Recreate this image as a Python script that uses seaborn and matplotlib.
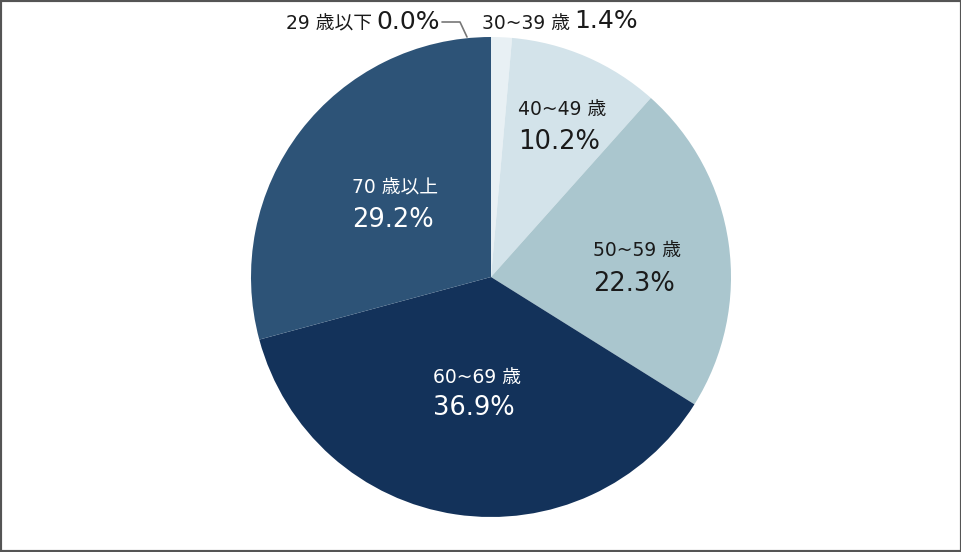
import numpy as np
import seaborn as sns
import matplotlib.pyplot as plt
from matplotlib.patches import Rectangle

# age groups and their share (%)
groups = ['29 歳以下', '30~39 歳', '40~49 歳', '50~59 歳', '60~69 歳', '70 歳以上']
shares = [0.0, 1.4, 10.2, 22.3, 36.9, 29.2]
colors = ['#ffffff', '#e8f0f4', '#d3e3ea', '#aac6ce', '#13325a', '#2d5377']

sns.set_theme(style='white')
plt.rcParams['font.family'] = ['DejaVu Sans', 'Noto Sans CJK JP']

W, H = 962, 552
CX, CY, R = 491, 277, 240   # pie centre / radius in pixels


def px(x, y):
    # pixel position -> pie data coords
    return (x - CX) / R, (CY - y) / R


fig = plt.figure(figsize=(W / 100, H / 100), dpi=100)
ax = fig.add_axes([(CX - R) / W, (H - CY - R) / H, 2 * R / W, 2 * R / H])

wedges, _ = ax.pie(shares, colors=sns.color_palette(colors), startangle=90,
                   counterclock=False, radius=1.0,
                   wedgeprops=dict(linewidth=0))
wedges[0].set_edgecolor('white')
wedges[0].set_linewidth(1.5)
ax.set_xlim(-1.0, 1.0)
ax.set_ylim(-1.0, 1.0)
ax.set_aspect('equal')
ax.axis('off')

# labels inside the larger slices: left edge, label centre y, value centre y (px)
inner_pos = {2: (518, 110, 142), 3: (593, 251, 284),
             4: (433, 378, 408), 5: (352, 188, 220)}
text_col = {2: '#1a1a1a', 3: '#1a1a1a', 4: 'white', 5: 'white'}
for i, (lx, ly, vy) in inner_pos.items():
    x, y = px(lx, ly)
    ax.text(x, y, groups[i], ha='left', va='center',
            fontsize=13.5, color=text_col[i])
    x, y = px(lx, vy)
    ax.text(x, y, f'{shares[i]:.1f}%', ha='left', va='center',
            fontsize=18.5, color=text_col[i])

# small slices labelled outside at the top
_, ty = px(0, 29)
x0, _ = px(372, 0)
x1, _ = px(376, 0)
ax.text(x0, ty, groups[0], ha='right', va='baseline',
        fontsize=13.5, color='#1a1a1a')
ax.text(x1, ty, f'{shares[0]:.1f}%', ha='left', va='baseline',
        fontsize=18, color='#1a1a1a')
lx, ly = zip(px(442, 22), px(460, 22), px(467, 37))
ax.plot(lx, ly, color='#777777', lw=1.2, clip_on=False)

x2, _ = px(482, 0)
t1 = ax.text(x2, ty, groups[1], ha='left', va='baseline',
             fontsize=13.5, color='#1a1a1a')
ax.annotate(f'{shares[1]:.1f}%', xy=(1, 0), xycoords=t1, xytext=(3, 0),
            textcoords='offset points', ha='left', va='bottom',
            fontsize=18, color='#1a1a1a')

# outer frame
fig.add_artist(Rectangle((0, 0), 1, 1, transform=fig.transFigure, fill=False,
                         edgecolor='#555555', linewidth=3))

fig.savefig('out.png', dpi=100)
